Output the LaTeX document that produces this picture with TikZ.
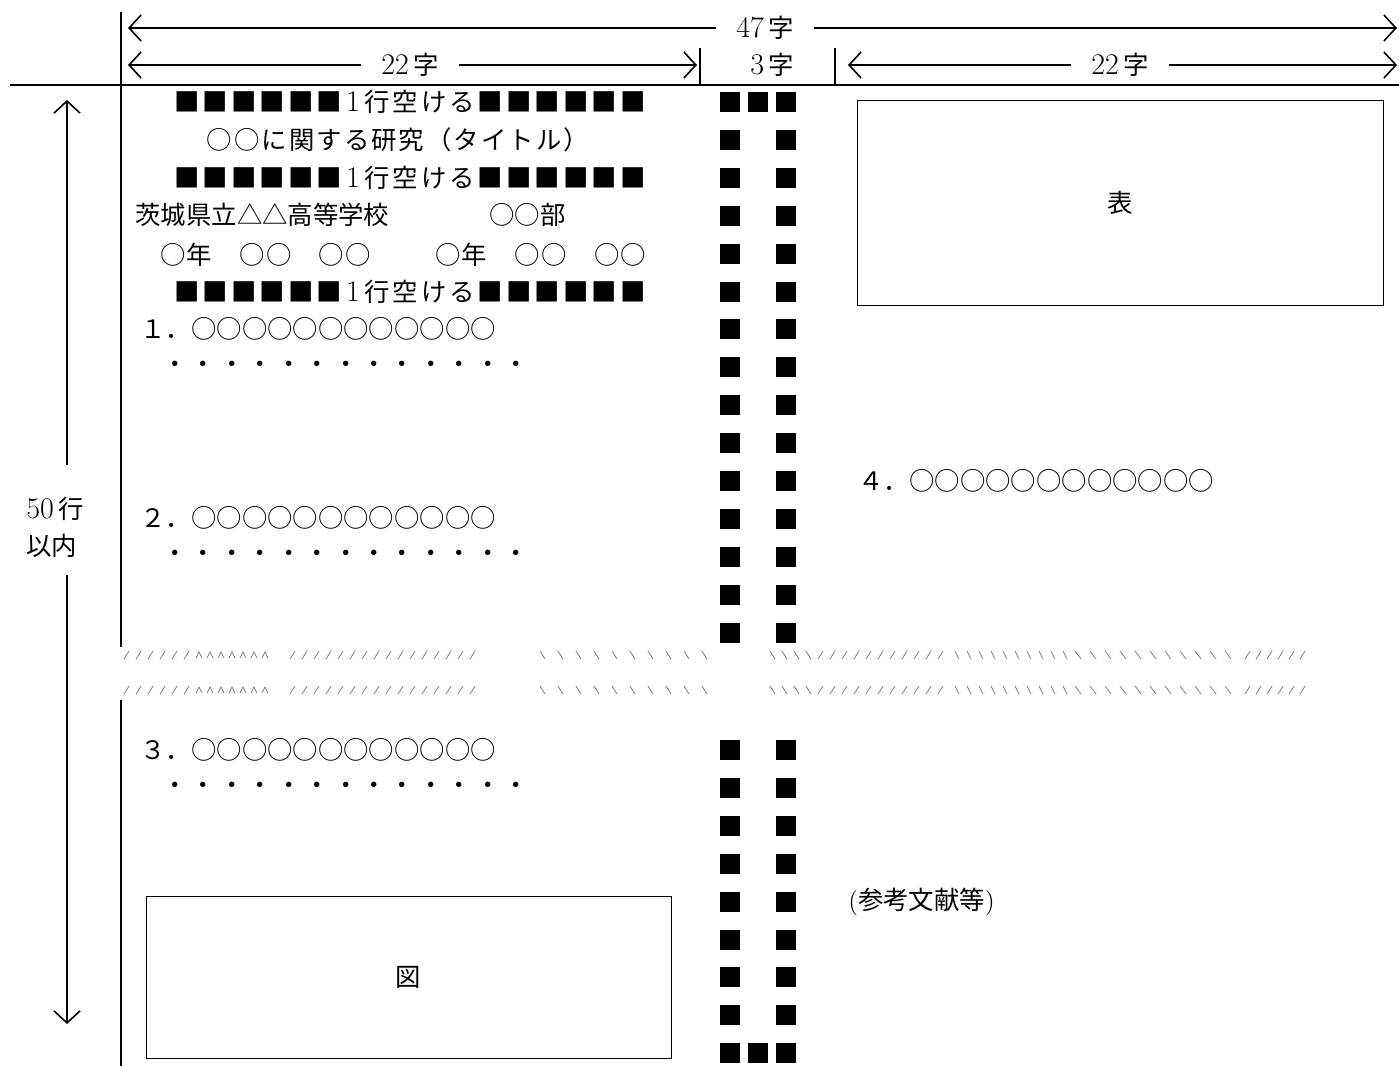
\documentclass[tikz,border=0pt]{standalone}
\usepackage{fontspec}
\newfontfamily\jp{Noto Sans CJK JP}
\newfontfamily\jpdots[LetterSpace=12]{Noto Sans CJK JP}
\newfontfamily\jpwide[LetterSpace=8]{Noto Sans CJK JP}
\newfontfamily\jpmid[LetterSpace=4]{Noto Sans CJK JP}
\usetikzlibrary{arrows.meta}

\tikzset{
  dimarrow/.style={line width=0.8pt, -{Straight Barb[length=6pt,width=13pt,line width=0.8pt]}},
  rule/.style={line width=1pt},
  frame/.style={draw, line width=0.5pt, inner sep=0pt, font=\fontsize{12.7}{15}\selectfont\jp},
  txt/.style={inner sep=0pt, font=\fontsize{12.7}{15}\selectfont},
  dimlabel/.style={txt, inner xsep=10pt},
  sq/.style={fill=black},
  brk/.style={black!50, line width=0.4pt},
}

% digits a little larger than the kana
\newcommand{\num}[1]{{\fontsize{15}{15}\selectfont #1}}
% one blank line marker
\newcommand{\blankrow}{{\jpdots ■■■■■■}\,\num{1}\,{\jpdots 行空ける■■■■■■}}
% wavy cut through the page
\newcommand{\breakrow}[1]{%
  \foreach \x in {124,136,...,184} \draw[brk] (\x,#1+4) -- ++(5,-8);
  \foreach \x in {196,207,...,262} \draw[brk] (\x,#1+3) -- ++(3,-6) -- ++(3,6);
  \foreach \x in {290,302,...,476} \draw[brk] (\x,#1+4) -- ++(5,-8);
  \foreach \x in {540,558,...,702} \draw[brk] (\x,#1-4) -- ++(5,8);
  \foreach \x in {770,782,...,806} \draw[brk] (\x,#1-4) -- ++(5,8);
  \foreach \x in {818,830,...,938} \draw[brk] (\x,#1+4) -- ++(5,-8);
  \foreach \x in {955,967,...,1063} \draw[brk] (\x,#1-4) -- ++(4,8);
  \foreach \x in {1075,1090,...,1225} \draw[brk] (\x,#1-4) -- ++(6,8);
  \foreach \x in {1245,1256,...,1300} \draw[brk] (\x,#1+4) -- ++(5,-8);
}

\begin{document}
\begin{tikzpicture}[x=0.5pt,y=-0.5pt]
  \useasboundingbox (0,0) rectangle (1399,1066);

  % width arrows
  \node[dimlabel] (w47) at (765,28) {\num{47}\,{\jp 字}};
  \coordinate (w47l) at (128,28);
  \coordinate (w47r) at (1397,28);
  \draw[dimarrow] (w47) -- (w47l);
  \draw[dimarrow] (w47) -- (w47r);

  \node[dimlabel] (w22l) at (410,65) {\num{22}\,{\jp 字}};
  \coordinate (w22la) at (128,65);
  \coordinate (w22lb) at (697,65);
  \draw[dimarrow] (w22l) -- (w22la);
  \draw[dimarrow] (w22l) -- (w22lb);

  \node[txt] (w3) at (772,65) {\num{3}\,{\jp 字}};

  \node[dimlabel] (w22r) at (1120,65) {\num{22}\,{\jp 字}};
  \coordinate (w22ra) at (848,65);
  \coordinate (w22rb) at (1397,65);
  \draw[dimarrow] (w22r) -- (w22ra);
  \draw[dimarrow] (w22r) -- (w22rb);

  \draw[line width=0.7pt] (700,48) -- (700,85);
  \draw[line width=0.7pt] (835,48) -- (835,85);

  % page rules
  \draw[rule] (10,85) -- (1399,85);
  \draw[rule] (121,12) -- (121,647);
  \draw[rule] (121,700) -- (121,1066);

  % height arrow
  \node[txt, align=left, inner ysep=12pt, font=\fontsize{12.7}{18.5}\selectfont] (h50) at (55,527) {\num{50}\,{\jp 行}\\{\jp 以内}};
  \coordinate (h50t) at (67,100);
  \coordinate (h50b) at (67,1024);
  \draw[dimarrow] (67,465) -- (h50t);
  \draw[dimarrow] (67,575) -- (h50b);

  % centre column marks
  \foreach \k in {0,...,14} {
    \fill[sq] (720,92+37.9*\k) rectangle ++(20,20);
    \fill[sq] (776,92+37.9*\k) rectangle ++(20,20);
  }
  \fill[sq] (748,92) rectangle ++(20,20);
  \foreach \k in {0,...,8} {
    \fill[sq] (720,740+37.9*\k) rectangle ++(20,20);
    \fill[sq] (776,740+37.9*\k) rectangle ++(20,20);
  }
  \fill[sq] (748,1043.2) rectangle ++(20,20);

  % left column
  \node[txt] (gap1) at (410,102) {\blankrow};
  \node[txt] (title) at (398,140) {\jpwide ○○に関する研究（タイトル）};
  \node[txt] (gap2) at (410,178) {\blankrow};
  \node[txt, anchor=west] (school) at (135,215) {\jp 茨城県立△△高等学校\hspace{50pt}○○部};
  \node[txt, anchor=west] (names) at (160,255) {\jpmid ○年　○○　○○　　\hspace{6pt}○年　○○　○○};
  \node[txt] (gap3) at (410,292) {\blankrow};
  \node[txt, anchor=west] (sec1) at (140,329) {\jp １．○○○○○○○○○○○○};
  \node[txt, anchor=west] (dots1) at (162,367) {\jpdots ・・・・・・・・・・・・・};
  \node[txt, anchor=west] (sec2) at (140,518) {\jp ２．○○○○○○○○○○○○};
  \node[txt, anchor=west] (dots2) at (162,556) {\jpdots ・・・・・・・・・・・・・};
  \node[txt, anchor=west] (sec3) at (140,750) {\jp ３．○○○○○○○○○○○○};
  \node[txt, anchor=west] (dots3) at (162,788) {\jpdots ・・・・・・・・・・・・・};

  % right column
  \node[txt, anchor=west] (sec4) at (858,481) {\jp ４．○○○○○○○○○○○○};
  \node[txt, anchor=west] (refs) at (848,902) {({\jp 参考文献等})};

  % table and figure
  \node[frame, minimum width=263pt, minimum height=102.5pt] (hyou) at (1120,202.5) {表};
  \node[frame, minimum width=262.5pt, minimum height=81pt] (zu) at (408.5,977) {図};

  % cut lines
  \breakrow{655}
  \breakrow{690}
\end{tikzpicture}
\end{document}
